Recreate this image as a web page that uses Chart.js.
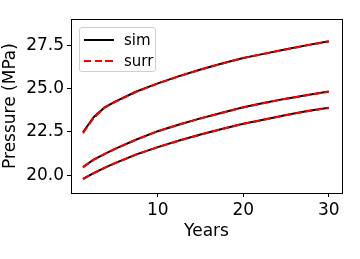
<!DOCTYPE html>
<html>
<head>
<meta charset="utf-8">
<script src="https://cdn.jsdelivr.net/npm/chart.js@4.4.1/dist/chart.umd.min.js"></script>
<style>
  body { margin: 0; background: #fff; }
  #wrap { position: relative; width: 360px; height: 259px; }
  #legend {
    position: absolute; left: 79px; top: 27px; width: 77px; height: 45px;
    box-sizing: border-box; border: 1px solid #d0d0d0; border-radius: 3px;
    background: rgba(255,255,255,0.8);
    font-family: 'DejaVu Sans', sans-serif; font-size: 15px; color: #000;
  }
  .item { position: absolute; left: 0; height: 20px; width: 100%; }
  .swatch { position: absolute; left: 4px; top: 9px; width: 30px; height: 2px; }
  .label { position: absolute; left: 44px; top: 1px; line-height: 18px; }
</style>
</head>
<body>
<div id="wrap">
  <canvas id="chart" width="360" height="259"></canvas>
  <div id="legend"></div>
</div>
<script>
var years = [1.25, 2.5, 3.75, 5, 7.5, 10, 12.5, 15, 17.5, 20, 22.5, 25, 27.5, 30];

var simTop    = [22.48, 23.35, 23.90, 24.25, 24.83, 25.30, 25.72, 26.10, 26.45, 26.77, 27.02, 27.27, 27.51, 27.73];
var surrTop   = [22.42, 23.30, 23.88, 24.22, 24.81, 25.29, 25.71, 26.09, 26.44, 26.76, 27.01, 27.26, 27.50, 27.71];
var simMid    = [20.47, 20.90, 21.22, 21.52, 22.06, 22.54, 22.93, 23.28, 23.60, 23.92, 24.18, 24.42, 24.63, 24.83];
var surrMid   = [20.45, 20.88, 21.21, 21.51, 22.05, 22.53, 22.92, 23.27, 23.59, 23.91, 24.17, 24.41, 24.62, 24.82];
var simLow    = [19.78, 20.12, 20.42, 20.70, 21.20, 21.62, 22.00, 22.35, 22.67, 22.97, 23.22, 23.47, 23.70, 23.90];
var surrLow   = [19.77, 20.11, 20.41, 20.69, 21.19, 21.61, 21.99, 22.34, 22.66, 22.96, 23.21, 23.46, 23.69, 23.88];

var xTicks = [10, 20, 30];
var yTicks = [20.0, 22.5, 25.0, 27.5];

function pts(vals) {
  return vals.map(function(v, i) { return { x: years[i], y: v }; });
}

function simSet(vals, label) {
  return { label: label, data: pts(vals), borderColor: '#000000', borderWidth: 2,
           pointRadius: 0, tension: 0, fill: false, order: 2 };
}
function surrSet(vals, label) {
  return { label: label, data: pts(vals), borderColor: '#ff0000', borderWidth: 2,
           borderDash: [7.4, 3.2], pointRadius: 0, tension: 0, fill: false, order: 1 };
}

var frame = {
  id: 'frame',
  afterDraw: function(chart) {
    var a = chart.chartArea, ctx = chart.ctx;
    ctx.save();
    ctx.strokeStyle = '#000';
    ctx.lineWidth = 1;
    ctx.strokeRect(Math.round(a.left) + 0.5, Math.round(a.top) + 0.5,
                   Math.round(a.right - a.left), Math.round(a.bottom - a.top));
    ctx.restore();
  }
};

var font = { family: 'DejaVu Sans', size: 17 };

var ctx = document.getElementById('chart').getContext('2d');
var chart = new Chart(ctx, {
  type: 'line',
  data: {
    datasets: [
      simSet(simTop, 'sim'), surrSet(surrTop, 'surr'),
      simSet(simMid, 'sim'), surrSet(surrMid, 'surr'),
      simSet(simLow, 'sim'), surrSet(surrLow, 'surr')
    ]
  },
  options: {
    responsive: false,
    animation: false,
    devicePixelRatio: 1,
    layout: { padding: { left: 0, right: 18, top: 19, bottom: 0 } },
    plugins: { legend: { display: false }, tooltip: { enabled: false } },
    scales: {
      x: {
        type: 'linear', min: -0.15, max: 31.55,
        afterBuildTicks: function(s) { s.ticks = xTicks.map(function(v) { return { value: v }; }); },
        afterFit: function(s) { s.height = 66; },
        ticks: { font: font, color: '#000', padding: 3, maxRotation: 0 },
        grid: { drawOnChartArea: false, drawTicks: true, tickLength: 4, color: '#000' },
        border: { display: true, color: '#000' },
        title: { display: true, text: 'Years', font: font, color: '#000', padding: { top: 2, bottom: 17 } }
      },
      y: {
        type: 'linear', min: 18.97, max: 29.02,
        afterBuildTicks: function(s) { s.ticks = yTicks.map(function(v) { return { value: v }; }); },
        afterFit: function(s) { s.width = 71; },
        ticks: { font: font, color: '#000', padding: 3,
                 callback: function(v) { return Number(v).toFixed(1); } },
        grid: { drawOnChartArea: false, drawTicks: true, tickLength: 4, color: '#000' },
        border: { display: true, color: '#000' },
        title: { display: true, text: 'Pressure (MPa)', font: font, color: '#000', padding: { top: 0, bottom: 0 } }
      }
    }
  },
  plugins: [frame]
});

// legend box in the upper left of the axes, one entry per series type
var legend = document.getElementById('legend');
[chart.data.datasets[0], chart.data.datasets[1]].forEach(function(ds, i) {
  var item = document.createElement('div');
  item.className = 'item';
  item.style.top = (2 + i * 21) + 'px';
  var sw = document.createElement('div');
  sw.className = 'swatch';
  if (ds.borderDash) {
    sw.style.background = 'repeating-linear-gradient(to right, ' + ds.borderColor + ' 0 7.4px, transparent 7.4px 10.6px)';
  } else {
    sw.style.background = ds.borderColor;
  }
  var lb = document.createElement('span');
  lb.className = 'label';
  lb.textContent = ds.label;
  item.appendChild(sw);
  item.appendChild(lb);
  legend.appendChild(item);
});
</script>
</body>
</html>
